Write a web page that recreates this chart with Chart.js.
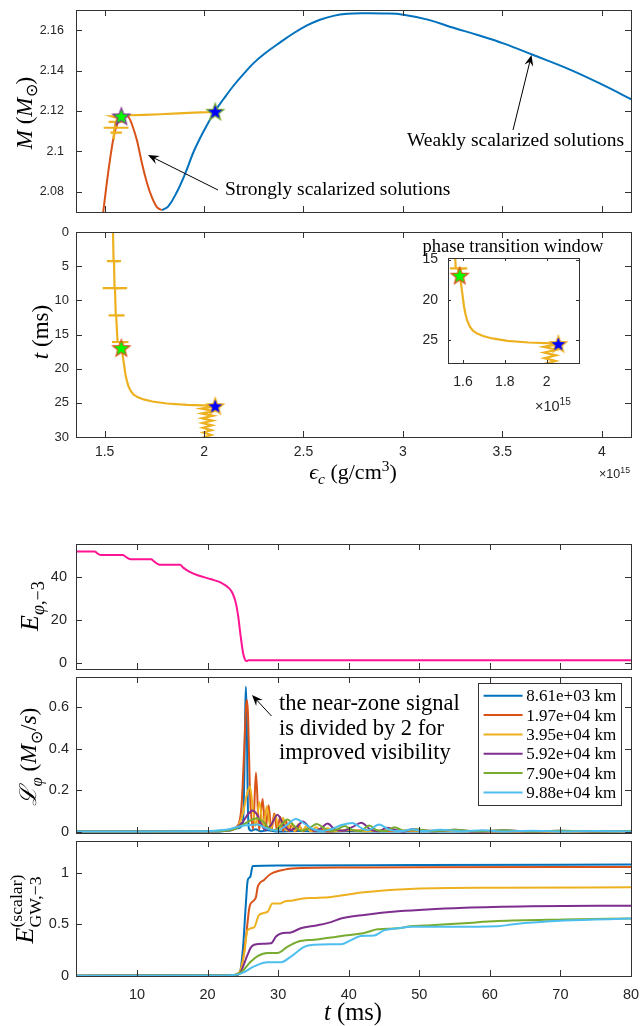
<!DOCTYPE html>
<html>
<head>
<meta charset="utf-8">
<script src="https://cdn.jsdelivr.net/npm/chart.js@4.4.1/dist/chart.umd.min.js"></script>
<style>
  body { margin: 0; background: #fff; width: 644px; height: 1026px; position: relative; overflow: hidden; font-family: "Liberation Serif", serif; }
  canvas { position: absolute; }
  .t { position: absolute; white-space: nowrap; color: #000; line-height: 1; }
  .off { font-family: "Liberation Sans", Arial, sans-serif; color: #262626; }
  sub, sup { font-size: 70%; line-height: 0; }
</style>
</head>
<body>
<canvas id="c1" width="644" height="222" style="left:0;top:0"></canvas>
<canvas id="c2" width="644" height="270" style="left:0;top:222px"></canvas>
<canvas id="c3" width="250" height="190" style="left:390px;top:235px"></canvas>
<canvas id="c4" width="644" height="140" style="left:0;top:535px"></canvas>
<canvas id="c5" width="644" height="166" style="left:0;top:672px"></canvas>
<canvas id="c6" width="644" height="190" style="left:0;top:836px"></canvas>
<canvas id="ann" width="644" height="1026" style="left:0;top:0"></canvas>
<script>
'use strict';

// ---------- top figure: M and t against central density (units of 1e15 g/cm^3)
let weakEps = [1.788, 1.82, 1.864, 1.906, 1.947, 1.998, 2.051, 2.10, 2.148, 2.2, 2.249, 2.31, 2.383, 2.45, 2.52, 2.583, 2.65, 2.72, 2.802, 2.9, 3.003, 3.13, 3.254, 3.38, 3.505, 3.656, 3.84, 4.008, 4.16];
let weakMass = [2.0709, 2.0728, 2.08, 2.0892, 2.0997, 2.110, 2.1193, 2.1262, 2.1325, 2.1385, 2.1437, 2.1488, 2.1540, 2.1585, 2.1625, 2.1652, 2.1671, 2.1681, 2.1684, 2.1683, 2.1677, 2.1651, 2.1612, 2.1575, 2.1535, 2.1477, 2.1405, 2.1328, 2.1252];
let strongEps = [1.488, 1.512, 1.529, 1.545, 1.565, 1.585, 1.604, 1.622, 1.638, 1.663, 1.688, 1.713, 1.738, 1.763, 1.788];
let strongMass = [2.066, 2.0853, 2.0973, 2.1069, 2.114, 2.1172, 2.118, 2.1168, 2.1132, 2.1053, 2.094, 2.0844, 2.0772, 2.0724, 2.0709];
let dynEpsM = [1.545, 1.546, 1.529, 1.587, 1.547, 1.549, 1.495, 1.62, 1.551, 1.555, 1.52, 1.595, 1.558, 1.565, 1.537, 1.604, 1.584, 1.63, 1.7, 1.78, 1.87, 1.95, 2.02, 2.056];
let dynMass = [2.1062, 2.1093, 2.1093, 2.1093, 2.1093, 2.1117, 2.1117, 2.1117, 2.1117, 2.1146, 2.1146, 2.1146, 2.1146, 2.1165, 2.1173, 2.1173, 2.1176, 2.1179, 2.1181, 2.1184, 2.1188, 2.1192, 2.1194, 2.1196];
let dynEps = [1.542, 1.545, 1.512, 1.582, 1.547, 1.55, 1.49, 1.613, 1.552, 1.556, 1.52, 1.60, 1.558, 1.565, 1.537, 1.62, 1.575,
  1.585, 1.592, 1.598, 1.604, 1.611, 1.62, 1.632, 1.646, 1.668, 1.696, 1.74, 1.813, 1.914, 2.031, 2.056,
  1.985, 2.047, 1.988, 2.045, 1.99, 2.043, 1.992, 2.04, 1.994, 2.038, 1.996, 2.036, 1.998, 2.033, 2.0, 2.03];
let dynTime = [0, 4.25, 4.25, 4.25, 4.3, 8.2, 8.2, 8.2, 8.25, 12.2, 12.2, 12.2, 12.25, 16.1, 16.1, 16.1, 16.15,
  17.0, 18.3, 19.5, 20.7, 21.7, 22.6, 23.3, 23.8, 24.2, 24.5, 24.8, 25.1, 25.3, 25.4, 25.5,
  25.85, 26.2, 26.55, 26.9, 27.25, 27.6, 27.95, 28.3, 28.65, 29.0, 29.35, 29.7, 30.05, 30.4, 30.75, 31.1];
let starEps = [1.584, 2.056];
let starMass = [2.1173, 2.1196];
let starTime = [17.0, 25.5];
let massTicks = [2.08, 2.1, 2.12, 2.14, 2.16];
let epsTicks = [1.5, 2, 2.5, 3, 3.5, 4];
let timeTicks = [0, 5, 10, 15, 20, 25, 30];
let insetTimeTicks = [15, 20, 25];
let insetEpsTicks = [1.6, 1.8, 2];

// ---------- bottom figure: against t (ms)
let eTime = [1.36, 4.0, 4.3, 4.6, 4.9, 8.0, 8.3, 8.7, 9.1, 12.0, 12.4, 12.9, 13.4, 16.1, 16.6, 17.4, 18.6, 20.5, 21.9, 23.07, 23.55, 24.02, 24.35, 24.7, 25.05, 25.3, 25.5, 25.8, 30, 80];
let eVal = [51.8, 51.8, 51.2, 50.5, 50.2, 50.2, 49.6, 48.7, 48.2, 48.2, 47.3, 46.1, 45.6, 45.6, 44.2, 42.5, 40.8, 38.9, 37.3, 34.7, 32.4, 27.7, 21.5, 12.2, 4.4, 1.6, 0.9, 1.3, 1.3, 1.3];

let radii = ['8.61e+03 km', '1.97e+04 km', '3.95e+04 km', '5.92e+04 km', '7.90e+04 km', '9.88e+04 km'];
let colors = ['#0072BD', '#D95319', '#EDB120', '#7E2F8E', '#77AC30', '#4DBEEE'];

let lumT1 = [1.36, 10, 20, 23, 24.3, 25.0, 25.2, 25.35, 25.44, 25.55, 25.7, 25.85, 26.2, 26.8, 27.5, 28.5, 30, 33, 36, 40, 45, 50, 60, 70, 80];
let lumV1 = [0.004, 0.004, 0.004, 0.008, 0.02, 0.04, 0.25, 0.6, 0.695, 0.55, 0.15, 0.02, 0.008, 0.015, 0.005, 0.01, 0.004, 0.006, 0.004, 0.005, 0.004, 0.004, 0.004, 0.004, 0.004];
let lumT2 = [1.36, 10, 20, 23, 24.2, 24.8, 25.2, 25.45, 25.58, 25.75, 26.0, 26.45, 26.86, 27.3, 27.8, 28.2, 28.65, 29.05, 29.45, 29.85, 30.3, 30.7, 31.1, 31.5, 32.0, 32.5, 33.0, 33.5, 34.2, 35.0, 36.0, 37, 40, 45, 50, 60, 70, 80];
let lumV2 = [0.004, 0.004, 0.005, 0.01, 0.03, 0.12, 0.4, 0.6, 0.632, 0.55, 0.2, 0.015, 0.286, 0.01, 0.159, 0.01, 0.13, 0.008, 0.09, 0.008, 0.075, 0.006, 0.055, 0.006, 0.04, 0.005, 0.03, 0.005, 0.02, 0.005, 0.015, 0.004, 0.01, 0.006, 0.008, 0.004, 0.004, 0.004];
let lumT3 = [1.36, 10, 20, 23, 24.3, 25.0, 25.5, 26.0, 26.4, 26.8, 27.35, 27.9, 28.4, 28.95, 29.6, 30.1, 30.7, 31.2, 31.8, 32.3, 32.9, 33.4, 34.0, 34.6, 35.4, 36.2, 37.0, 38, 40, 42, 45, 50, 55, 60, 70, 80];
let lumV3 = [0.004, 0.004, 0.005, 0.01, 0.03, 0.09, 0.17, 0.219, 0.12, 0.03, 0.145, 0.02, 0.125, 0.015, 0.085, 0.01, 0.07, 0.008, 0.05, 0.006, 0.04, 0.006, 0.03, 0.005, 0.025, 0.005, 0.02, 0.005, 0.012, 0.005, 0.01, 0.008, 0.006, 0.005, 0.004, 0.004];
let lumT4 = [1.36, 10, 20, 22.5, 24.0, 25.0, 25.8, 26.4, 27.0, 27.6, 28.2, 29.0, 29.9, 30.8, 31.7, 32.6, 33.5, 34.4, 35.2, 36.1, 37.0, 38.0, 39.2, 40.5, 41.8, 43.0, 44.2, 45.4, 46.6, 47.8, 49, 52, 55, 58, 62, 66, 70, 75, 80];
let lumV4 = [0.004, 0.004, 0.005, 0.008, 0.02, 0.05, 0.09, 0.105, 0.085, 0.04, 0.012, 0.035, 0.084, 0.035, 0.01, 0.025, 0.052, 0.025, 0.008, 0.02, 0.042, 0.015, 0.008, 0.025, 0.046, 0.015, 0.005, 0.022, 0.012, 0.004, 0.015, 0.005, 0.012, 0.004, 0.01, 0.004, 0.008, 0.004, 0.006];
let lumT5 = [1.36, 10, 20, 22.5, 24.0, 25.2, 26.2, 27.0, 27.9, 28.7, 29.4, 30.3, 31.3, 32.3, 33.3, 34.4, 35.5, 36.5, 37.5, 38.4, 39.4, 40.5, 41.7, 42.9, 44.0, 45.2, 46.5, 47.8, 49.5, 52, 55, 58, 62, 66, 70, 75, 80];
let lumV5 = [0.004, 0.004, 0.005, 0.008, 0.018, 0.04, 0.06, 0.068, 0.05, 0.02, 0.01, 0.03, 0.062, 0.03, 0.008, 0.02, 0.04, 0.02, 0.006, 0.015, 0.03, 0.012, 0.006, 0.033, 0.01, 0.006, 0.025, 0.008, 0.015, 0.005, 0.012, 0.005, 0.01, 0.004, 0.008, 0.004, 0.006];
let lumT6 = [1.36, 10, 18, 21, 23, 24.5, 25.8, 27.1, 28.3, 29.8, 31.2, 32.5, 33.8, 35, 36.2, 37.5, 39, 40.5, 41.8, 42.7, 44.3, 45.8, 47.5, 49, 50.5, 53, 56, 59, 62, 66, 70, 75, 80];
let lumV6 = [0.004, 0.004, 0.005, 0.008, 0.015, 0.028, 0.035, 0.037, 0.02, 0.008, 0.035, 0.064, 0.04, 0.015, 0.006, 0.015, 0.035, 0.045, 0.02, 0.01, 0.037, 0.012, 0.006, 0.015, 0.006, 0.012, 0.005, 0.01, 0.004, 0.008, 0.004, 0.006, 0.004];

let gwT1 = [1.36, 23.5, 24.5, 25.0, 25.4, 25.7, 26.05, 26.4, 30, 50, 80];
let gwV1 = [0, 0.002, 0.02, 0.25, 0.67, 0.93, 0.96, 1.065, 1.07, 1.075, 1.08];
let gwT2 = [1.36, 23.5, 24.7, 25.4, 25.9, 26.1, 26.85, 27.1, 28.0, 29.0, 30.9, 33.3, 40, 50, 80];
let gwV2 = [0, 0.003, 0.05, 0.35, 0.65, 0.70, 0.76, 0.86, 0.93, 0.99, 1.03, 1.045, 1.05, 1.053, 1.055];
let gwT3 = [1.36, 23.5, 24.5, 25.2, 25.65, 26.6, 27.3, 28.5, 29.2, 30.2, 30.9, 32.1, 33.5, 35, 37.5, 42.2, 49.3, 61.1, 80];
let gwV3 = [0, 0.004, 0.03, 0.22, 0.44, 0.47, 0.59, 0.62, 0.70, 0.70, 0.72, 0.73, 0.75, 0.755, 0.765, 0.81, 0.845, 0.855, 0.858];
let gwT4 = [1.36, 23.5, 24.5, 25.65, 26.1, 26.6, 28.0, 29.0, 29.7, 30.4, 31.8, 33.2, 35.6, 37.5, 38.9, 42.2, 47, 56.4, 65.8, 80];
let gwV4 = [0, 0.004, 0.02, 0.2, 0.27, 0.30, 0.31, 0.315, 0.38, 0.41, 0.42, 0.46, 0.49, 0.52, 0.555, 0.59, 0.625, 0.66, 0.675, 0.68];
let gwT5 = [1.36, 23.5, 24.7, 26.1, 27.1, 28.5, 29.9, 31.3, 32.8, 35.1, 37.5, 39.4, 42.2, 44.1, 47, 48.8, 51.6, 56.4, 61.1, 70.6, 80];
let gwV5 = [0, 0.004, 0.03, 0.135, 0.19, 0.22, 0.22, 0.28, 0.33, 0.35, 0.37, 0.39, 0.415, 0.45, 0.46, 0.48, 0.49, 0.51, 0.53, 0.545, 0.555];
let gwT6 = [1.36, 22.5, 24.7, 26.6, 28.5, 30.4, 31.8, 33.7, 35.1, 37.5, 38.9, 40.3, 41.7, 43.6, 45, 47, 48.8, 54, 61.1, 63.4, 70.6, 80];
let gwV6 = [0, 0.003, 0.02, 0.09, 0.13, 0.13, 0.185, 0.28, 0.30, 0.305, 0.305, 0.345, 0.385, 0.39, 0.44, 0.46, 0.475, 0.475, 0.48, 0.50, 0.535, 0.555];

let tTicks = [10, 20, 30, 40, 50, 60, 70, 80];
let eTicks = [0, 20, 40];
let lumTicks = [0, 0.2, 0.4, 0.6];
let gwTicks = [0, 0.5, 1];

let lumT = [lumT1, lumT2, lumT3, lumT4, lumT5, lumT6];
let lumV = [lumV1, lumV2, lumV3, lumV4, lumV5, lumV6];
let gwT = [gwT1, gwT2, gwT3, gwT4, gwT5, gwT6];
let gwV = [gwV1, gwV2, gwV3, gwV4, gwV5, gwV6];

function pts(xs, ys) {
    return xs.map((x, i) => ({ x: x, y: ys[i] }));
}

// filled star used as point marker
function makeStar(fill, edge) {
    let c = document.createElement('canvas');
    c.width = 22; c.height = 22;
    let g = c.getContext('2d');
    g.beginPath();
    for (let i = 0; i < 10; i++) {
        let r = i % 2 === 0 ? 9 : 3.8;
        let a = -Math.PI / 2 + i * Math.PI / 5;
        g.lineTo(11 + r * Math.cos(a), 11.5 + r * Math.sin(a));
    }
    g.closePath();
    g.fillStyle = fill;
    g.fill();
    g.lineWidth = 1.2;
    g.strokeStyle = edge;
    g.stroke();
    return c;
}

// box with inward ticks on all four sides
Chart.register({
    id: 'frame',
    defaults: { len: 6, white: false },
    beforeDraw(chart, args, o) {
        if (!o.white) return;
        let a = chart.chartArea;
        chart.ctx.save();
        chart.ctx.fillStyle = '#fff';
        chart.ctx.fillRect(a.left, a.top, a.right - a.left, a.bottom - a.top);
        chart.ctx.restore();
    },
    afterDraw(chart, args, o) {
        let a = chart.chartArea, ctx = chart.ctx, x = chart.scales.x, y = chart.scales.y;
        ctx.save();
        ctx.strokeStyle = '#333';
        ctx.lineWidth = 1;
        ctx.beginPath();
        x.ticks.forEach(t => {
            let p = Math.round(x.getPixelForValue(t.value)) + 0.5;
            ctx.moveTo(p, a.bottom); ctx.lineTo(p, a.bottom - o.len);
            ctx.moveTo(p, a.top); ctx.lineTo(p, a.top + o.len);
        });
        y.ticks.forEach(t => {
            let p = Math.round(y.getPixelForValue(t.value)) + 0.5;
            ctx.moveTo(a.left, p); ctx.lineTo(a.left + o.len, p);
            ctx.moveTo(a.right, p); ctx.lineTo(a.right - o.len, p);
        });
        ctx.stroke();
        ctx.strokeRect(Math.round(a.left) + 0.5, Math.round(a.top) + 0.5, Math.round(a.right - a.left), Math.round(a.bottom - a.top));
        ctx.restore();
    }
});

let boxLegend = {
    id: 'boxLegend',
    afterDraw(chart) {
        let a = chart.chartArea, ctx = chart.ctx;
        let w = 143, h = 122, rowH = 19.35;
        let x0 = Math.round(a.right - 10.3 - w), y0 = Math.round(a.top + 6.3);
        ctx.save();
        ctx.fillStyle = '#fff';
        ctx.fillRect(x0, y0, w, h);
        ctx.strokeStyle = '#333';
        ctx.lineWidth = 1;
        ctx.strokeRect(x0 + 0.5, y0 + 0.5, w, h);
        ctx.font = '17px "Liberation Serif", serif';
        ctx.textBaseline = 'middle';
        chart.data.datasets.forEach((d, i) => {
            let cy = y0 + 12.7 + i * rowH;
            ctx.strokeStyle = d.borderColor;
            ctx.lineWidth = 2;
            ctx.beginPath();
            ctx.moveTo(x0 + 5.6, cy);
            ctx.lineTo(x0 + 44.6, cy);
            ctx.stroke();
            ctx.fillStyle = '#000';
            ctx.fillText(d.label, x0 + 48.3, cy + 1);
        });
        ctx.restore();
    }
};

function noPad(s) {
    s.paddingLeft = 0; s.paddingRight = 0; s.paddingTop = 0; s.paddingBottom = 0;
}

function panel(id, cfg, extra) {
    let yFont = { family: '"Liberation Sans", Arial, sans-serif', size: cfg.fontSize };
    let xFont = { family: '"Liberation Sans", Arial, sans-serif', size: cfg.xFontSize || cfg.fontSize };
    return new Chart(document.getElementById(id), {
        type: 'scatter',
        data: { datasets: cfg.datasets },
        plugins: extra || [],
        options: {
            responsive: false,
            animation: false,
            devicePixelRatio: 1,
            layout: { padding: { top: cfg.padTop, right: cfg.padRight, left: 0, bottom: 0 } },
            plugins: {
                legend: { display: false },
                tooltip: { enabled: false },
                frame: { len: cfg.tickLen, white: !!cfg.white }
            },
            elements: { point: { radius: 0 }, line: { borderWidth: 2 } },
            scales: {
                x: {
                    type: 'linear', min: cfg.xMin, max: cfg.xMax,
                    grid: { display: false, drawTicks: false }, border: { display: false },
                    afterBuildTicks: s => { s.ticks = cfg.xTicks.map(v => ({ value: v })); },
                    afterFit: s => { s.height = cfg.xHeight; noPad(s); },
                    ticks: { display: !!cfg.xLabels, padding: cfg.xPad, font: xFont, color: '#262626', maxRotation: 0, autoSkip: false, callback: v => String(v) }
                },
                y: {
                    type: 'linear', min: cfg.yMin, max: cfg.yMax, reverse: !!cfg.yReverse,
                    grid: { display: false, drawTicks: false }, border: { display: false },
                    afterBuildTicks: s => { s.ticks = cfg.yTicks.map(v => ({ value: v })); },
                    afterFit: s => { s.width = cfg.yWidth; noPad(s); },
                    ticks: { padding: cfg.yPad, font: yFont, color: '#262626', autoSkip: false, callback: v => String(v) }
                }
            }
        }
    });
}

function line(data, color, width, order, smooth) {
    return { data: data, borderColor: color, backgroundColor: color, borderWidth: width, showLine: true, pointRadius: 0,
        order: order, cubicInterpolationMode: smooth ? 'monotone' : 'default', tension: 0 };
}
function star(x, y, img, order) {
    return { data: [{ x: x, y: y }], pointStyle: img, pointRadius: 9, showLine: false, order: order };
}

let greenStarA = makeStar('#00ff00', '#7E2F8E');
let blueStarA = makeStar('#0000ff', '#77AC30');
let greenStarB = makeStar('#00ff00', '#D95319');
let blueStarB = makeStar('#0000ff', '#EDB120');

// M vs eps_c
let weakLine = line(pts(weakEps, weakMass), '#0072BD', 2, 4, false);
weakLine.tension = 0.4;
panel('c1', {
    padTop: 8, padRight: 13, xHeight: 5, yWidth: 76, tickLen: 6, fontSize: 12.5, yPad: 12,
    xMin: 1.356, xMax: 4.147, yMin: 2.07, yMax: 2.17, xTicks: epsTicks, yTicks: massTicks,
    datasets: [
        weakLine,
        line(pts(strongEps, strongMass), '#D95319', 2, 3, true),
        line(pts(dynEpsM, dynMass), '#EDB120', 2.2, 2, false),
        star(starEps[1], starMass[1], blueStarA, 1),
        star(starEps[0], starMass[0], greenStarA, 0)
    ]
});

// t vs eps_c
panel('c2', {
    padTop: 6, padRight: 13, xHeight: 55, yWidth: 76, tickLen: 6, fontSize: 13, xFontSize: 14, yPad: 7, xPad: 7, xLabels: true,
    xMin: 1.356, xMax: 4.147, yMin: 0, yMax: 30, yReverse: true, xTicks: epsTicks, yTicks: timeTicks,
    datasets: [
        line(pts(dynEps, dynTime), '#EDB120', 2.2, 2, false),
        star(starEps[1], starTime[1], blueStarB, 1),
        star(starEps[0], starTime[0], greenStarB, 0)
    ]
});

// inset: phase transition window
panel('c3', {
    padTop: 23, padRight: 61, xHeight: 62, yWidth: 58, tickLen: 3, fontSize: 14, yPad: 10, xPad: 11, xLabels: true, white: true,
    xMin: 1.528, xMax: 2.155, yMin: 14.8, yMax: 27.85, yReverse: true, xTicks: insetEpsTicks, yTicks: insetTimeTicks,
    datasets: [
        line(pts(dynEps, dynTime), '#EDB120', 2.2, 2, false),
        star(starEps[1], starTime[1], blueStarB, 1),
        star(starEps[0], starTime[0], greenStarB, 0)
    ]
});

// E_phi
panel('c4', {
    padTop: 9, padRight: 13, xHeight: 6, yWidth: 76, tickLen: 6, fontSize: 14.5, yPad: 9,
    xMin: 1.36, xMax: 80, yMin: -2.8, yMax: 55.3, xTicks: tTicks, yTicks: eTicks,
    datasets: [line(pts(eTime, eVal), '#FF1493', 2, 0, true)]
});

// scalar luminosity
panel('c5', {
    padTop: 5, padRight: 13, xHeight: 5, yWidth: 76, tickLen: 6, fontSize: 14.5, yPad: 7,
    xMin: 1.36, xMax: 80, yMin: -0.003, yMax: 0.742, xTicks: tTicks, yTicks: lumTicks,
    datasets: radii.map((r, i) => Object.assign(line(pts(lumT[i], lumV[i]), colors[i], 2, 6 - i, true), { label: r }))
}, [boxLegend]);

// radiated scalar energy
panel('c6', {
    padTop: 5, padRight: 13, xHeight: 50, yWidth: 76, tickLen: 6, fontSize: 14.5, yPad: 7, xPad: 10, xLabels: true,
    xMin: 1.36, xMax: 80, yMin: -0.003, yMax: 1.308, xTicks: tTicks, yTicks: gwTicks,
    datasets: radii.map((r, i) => Object.assign(line(pts(gwT[i], gwV[i]), colors[i], 2, 6 - i, true), { label: r }))
});

// annotation arrows
function arrow(g, x1, y1, x2, y2) {
    let dx = x2 - x1, dy = y2 - y1, len = Math.hypot(dx, dy);
    let ux = dx / len, uy = dy / len, nx = -uy, ny = ux;
    g.beginPath();
    g.moveTo(x1, y1);
    g.lineTo(x2 - ux * 6, y2 - uy * 6);
    g.stroke();
    g.beginPath();
    g.moveTo(x2, y2);
    g.lineTo(x2 - ux * 11 + nx * 4.5, y2 - uy * 11 + ny * 4.5);
    g.lineTo(x2 - ux * 7, y2 - uy * 7);
    g.lineTo(x2 - ux * 11 - nx * 4.5, y2 - uy * 11 - ny * 4.5);
    g.closePath();
    g.fill();
}
let g = document.getElementById('ann').getContext('2d');
g.strokeStyle = '#000';
g.fillStyle = '#000';
g.lineWidth = 1;
arrow(g, 218, 190, 148, 155);
arrow(g, 513, 130, 531.5, 55);
arrow(g, 271.5, 716, 252, 695);

// text labels
function label(html, x, y, size, mode) {
    let d = document.createElement('div');
    d.className = 't';
    d.style.left = x + 'px';
    d.style.top = y + 'px';
    d.style.fontSize = size + 'px';
    if (mode === 'rot') d.style.transform = 'translate(-50%,-50%) rotate(-90deg)';
    else if (mode === 'c') d.style.transform = 'translate(-50%,-50%)';
    else if (mode === 'r') d.style.transform = 'translate(-100%,-50%)';
    else d.style.transform = 'translate(0,-50%)';
    d.innerHTML = html;
    document.body.appendChild(d);
    return d;
}
label('<i>M</i> (<i>M</i><sub>⊙</sub>)', 24, 113, 23, 'rot');
label('<i>t</i> (ms)', 40, 332, 23, 'rot');
label('<i>ϵ</i><sub><i>c</i></sub> (g/cm<sup>3</sup>)', 353, 472, 22, 'c');
label('×10<sup>15</sup>', 630, 474, 12.5, 'r').classList.add('off');
label('×10<sup>15</sup>', 535, 406, 14.5, 'l').classList.add('off');
label('phase transition window', 513, 246, 18.5, 'c');
label('Strongly scalarized solutions', 225, 189, 19.5, 'l');
label('Weakly scalarized solutions', 407, 140, 19.5, 'l');
label('<i>E</i><sub><i>φ</i>,−3</sub>', 30, 606, 26, 'rot');
label('<i>ℒ</i><sub><i>φ</i></sub> (<i>M</i><sub>⊙</sub>/<i>s</i>)', 29, 757, 23.5, 'rot');
label('<i>E</i><span style="display:inline-block;vertical-align:-0.45em;font-size:68%;line-height:1.05"><span style="display:block">(scalar)</span><span style="display:block">GW,−3</span></span>', 26, 909, 26, 'rot');
label('<i>t</i> (ms)', 353, 1012, 24.5, 'c');
label('the near-zone signal', 279, 703, 22.5, 'l');
label('is divided by 2 for', 279, 727.5, 22.5, 'l');
label('improved visibility', 279, 752, 22.5, 'l');
</script>
</body>
</html>
